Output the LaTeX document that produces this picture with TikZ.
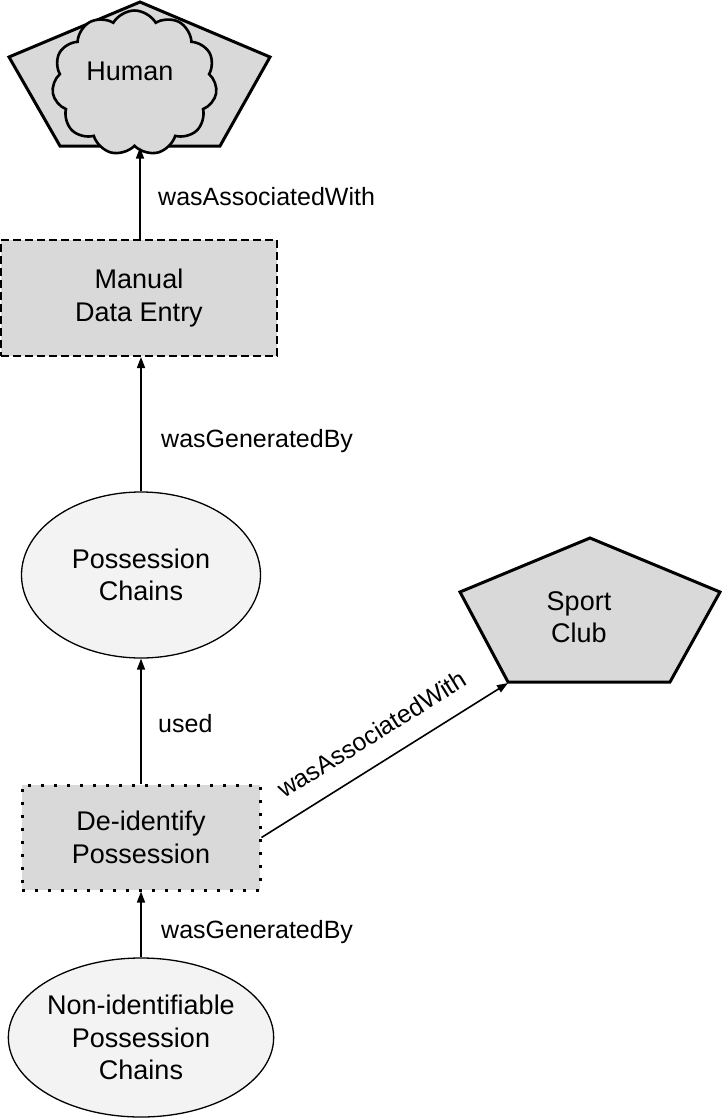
\documentclass[tikz,border=0pt]{standalone}
\usepackage{fontspec}
\setmainfont{Liberation Sans}
\usetikzlibrary{shapes.geometric,shapes.symbols,arrows.meta,calc}
\definecolor{boxgray}{HTML}{D9D9D9}
\definecolor{ellgray}{HTML}{F3F3F3}
\begin{document}
\begin{tikzpicture}[x=1pt,y=-1pt,
  nodetext/.style={font=\fontsize{27}{32.5}\selectfont, align=center, inner sep=0pt},
  lbl/.style={font=\fontsize{25}{30}\selectfont, inner sep=0pt},
  agentshape/.style={draw, line width=3pt, fill=boxgray, line join=miter},
  arr/.style={line width=1.6pt, -{Triangle[length=11pt,width=8pt]}},
  entity/.style={ellipse, draw, line width=1.3pt, fill=ellgray, nodetext},
  activity/.style={rectangle, draw, line width=2pt, fill=boxgray, nodetext}]
\useasboundingbox (0,0) rectangle (722,1119);

% Human agent
\draw[agentshape] (140,2) -- (270,57) -- (220,146) -- (60,146) -- (9,57) -- cycle;
\node[cloud, cloud puffs=11, cloud puff arc=120, draw, line width=2.6pt, fill=boxgray,
      minimum width=165pt, minimum height=145pt, inner sep=0pt] (cloud) at (134.5,83) {};
\node[nodetext] (human) at (130,71) {Human};
\coordinate (humanbot) at (140,147.5);

% Manual Data Entry
\node[activity, dash pattern=on 8pt off 4pt, minimum width=276pt, minimum height=116pt] (mde) at (139,298) {Manual\\Data Entry};

% Possession Chains
\node[entity, minimum width=239pt, minimum height=166pt] (pc) at (141,575) {Possession\\Chains};

% De-identify Possession
\node[activity, line width=3pt, dash pattern=on 3pt off 10pt, minimum width=238pt, minimum height=105pt] (dp) at (141,837.5) {De-identify\\Possession};

% Non-identifiable Possession Chains
\node[entity, minimum width=238pt, minimum height=159pt] (npc) at (141,1037.5) {Non-identifiable\\Possession\\Chains};

% Sport Club agent
\draw[agentshape] (590,538) -- (720,592) -- (670,682) -- (508,682) -- (460,592) -- cycle;
\node[nodetext] (sport) at (579,617) {Sport\\Club};
\coordinate (sportbl) at (508,683);

% connectors
\draw[arr] (mde.north -| humanbot) -- (humanbot);
\node[lbl, anchor=base west] (l1) at (158,205) {wasAssociatedWith};

\draw[arr] (pc.north) -- (pc.north |- mde.south);
\node[lbl, anchor=base west] (l2) at (161,447) {wasGeneratedBy};

\draw[arr] (dp.north) -- (pc.south);
\node[lbl, anchor=base west] (l3) at (158,732) {used};

\draw[arr] (npc.north) -- (dp.south);
\node[lbl, anchor=base west] (l4) at (161,938) {wasGeneratedBy};

\draw[arr] (dp.east) -- (sportbl);
\coordinate (lblpt) at ($(dp.east)!0.51!(sportbl)!20pt!90:(sportbl)$);
\node[lbl, anchor=base, rotate=31.84] (l5) at (lblpt) {wasAssociatedWith};
\end{tikzpicture}
\end{document}
